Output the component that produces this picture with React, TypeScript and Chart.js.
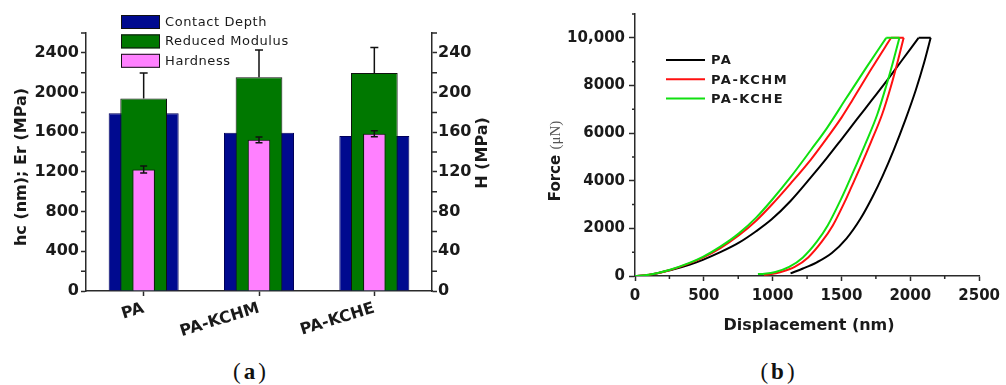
import { useEffect, useRef } from 'react';
import { Chart, registerables } from 'chart.js';

Chart.register(...registerables);

// ---------- (a) indentation summary per sample ----------
const categories = ['PA', 'PA-KCHM', 'PA-KCHE'];
const contactDepth = [1792, 1595, 1562]; // hc, nm
const reducedModulus = [1939, 2155, 2198]; // Er, MPa
const reducedModulusErr = [258, 273, 257];
const hardness = [122.5, 152.3, 158.5]; // H, MPa
const hardnessErr = [3.5, 3, 3];

const leftTicks = [0, 400, 800, 1200, 1600, 2000, 2400];
const rightTicks = [0, 40, 80, 120, 160, 200, 240];

// ---------- (b) force vs displacement curves ----------
const forceTicks = [0, 2000, 4000, 6000, 8000, 10000];
const forceTickLabels = ['0', '2000', '4000', '6000', '8000', '10,000'];
const displacementTicks = [0, 500, 1000, 1500, 2000, 2500];

// [displacement nm, force uN]
const paLoading = [
  [0, 0], [100, 45], [255, 240], [400, 480], [493, 680], [620, 1000], [755, 1400], [880, 1880],
  [993, 2380], [1130, 3150], [1279, 4150], [1393, 4950], [1500, 5740], [1607, 6540], [1720, 7380],
  [1830, 8200], [1945, 9100], [2060, 10000],
];
const paUnloading = [
  [2148, 10000], [2100, 8950], [2040, 7810], [1964, 6556], [1880, 5296], [1800, 4216], [1726, 3328],
  [1640, 2425], [1536, 1572], [1430, 968], [1321, 576], [1220, 313], [1130, 110],
];
const kchmLoading = [
  [0, 0], [100, 48], [255, 255], [400, 540], [493, 770], [620, 1170], [755, 1710], [880, 2320],
  [993, 2990], [1130, 3880], [1279, 4900], [1393, 5780], [1500, 6650], [1579, 7380], [1720, 8720],
  [1860, 10000],
];
const kchmUnloading = [
  [1952, 10000], [1908, 9000], [1860, 7980], [1795, 6780], [1714, 5620], [1636, 4560], [1571, 3720],
  [1524, 3120], [1437, 2120], [1357, 1440], [1258, 780], [1160, 380], [1060, 170], [980, 75], [936, 50],
];
const kcheLoading = [
  [0, 0], [100, 52], [255, 265], [400, 560], [493, 800], [620, 1230], [755, 1790], [880, 2450],
  [993, 3180], [1130, 4150], [1279, 5300], [1393, 6200], [1533, 7450], [1680, 8750], [1825, 10000],
];
const kcheUnloading = [
  [1921, 10000], [1875, 9000], [1825, 7980], [1760, 6780], [1679, 5620], [1600, 4560], [1536, 3720],
  [1488, 3120], [1400, 2120], [1321, 1440], [1220, 780], [1120, 380], [1020, 170], [940, 95], [893, 80],
];

const samples = [
  { name: 'PA', color: '#000000', loading: paLoading, unloading: paUnloading, order: 3 },
  { name: 'PA-KCHM', color: '#ff1010', loading: kchmLoading, unloading: kchmUnloading, order: 2 },
  { name: 'PA-KCHE', color: '#10e010', loading: kcheLoading, unloading: kcheUnloading, order: 1 },
];

// ---------- styling ----------
const SANS = '"DejaVu Sans", "Liberation Sans", sans-serif';
const SERIF = '"Liberation Serif", "DejaVu Serif", serif';
const AXIS = '#2a2a2a';
const INK = '#1a1a1a';
const NAVY = '#000a8f';
const GREEN = '#007800';
const PINK = '#ff80ff';

const minorBetween = (major: number[], max: number) => {
  const step = major[1] - major[0];
  const out: number[] = [];
  for (const v of major) if (v + step / 2 <= max) out.push(v + step / 2);
  return out;
};

function drawMinorTicks(chart: any, scaleId: string, values: number[], len: number) {
  const s = chart.scales[scaleId];
  const ctx = chart.ctx;
  ctx.save();
  ctx.strokeStyle = AXIS;
  ctx.lineWidth = 1.5;
  ctx.beginPath();
  for (const v of values) {
    const p = s.getPixelForValue(v);
    if (s.isHorizontal()) {
      ctx.moveTo(p, s.top);
      ctx.lineTo(p, s.top + len);
    } else if (s.position === 'left') {
      ctx.moveTo(s.right, p);
      ctx.lineTo(s.right - len, p);
    } else {
      ctx.moveTo(s.left, p);
      ctx.lineTo(s.left + len, p);
    }
  }
  ctx.stroke();
  ctx.restore();
}

function drawVerticalTitle(ctx: CanvasRenderingContext2D, parts: { text: string; font: string; color: string }[], x: number, y: number) {
  ctx.save();
  ctx.translate(x, y);
  ctx.rotate(-Math.PI / 2);
  ctx.textBaseline = 'middle';
  ctx.textAlign = 'left';
  const widths = parts.map((p) => {
    ctx.font = p.font;
    return ctx.measureText(p.text).width;
  });
  let cx = -widths.reduce((a, b) => a + b, 0) / 2;
  parts.forEach((p, i) => {
    ctx.font = p.font;
    ctx.fillStyle = p.color;
    ctx.fillText(p.text, cx, 0);
    cx += widths[i];
  });
  ctx.restore();
}

const axisStyle = (tickLength: number) => ({
  grid: { drawOnChartArea: false, tickLength, tickColor: AXIS, tickWidth: 1.5 },
  border: { color: AXIS, width: 1.5 },
});

// error bars, legend and axis titles of panel (a)
const panelAPlugin = {
  id: 'panelADecor',
  afterDatasetsDraw(chart: any) {
    const ctx = chart.ctx;
    const bars = (dsIndex: number, errs: number[], both: boolean, cap: number) => {
      const meta = chart.getDatasetMeta(dsIndex);
      const scale = chart.scales[meta.yAxisID];
      const values = chart.data.datasets[dsIndex].data as number[];
      ctx.save();
      ctx.strokeStyle = '#111';
      ctx.lineWidth = 1.5;
      meta.data.forEach((bar: any, i: number) => {
        const x = bar.x;
        const hi = scale.getPixelForValue(values[i] + errs[i]);
        const lo = scale.getPixelForValue(both ? values[i] - errs[i] : values[i]);
        ctx.beginPath();
        ctx.moveTo(x, lo);
        ctx.lineTo(x, hi);
        ctx.moveTo(x - cap / 2, hi);
        ctx.lineTo(x + cap / 2, hi);
        if (both) {
          ctx.moveTo(x - cap / 2, lo);
          ctx.lineTo(x + cap / 2, lo);
        }
        ctx.stroke();
      });
      ctx.restore();
    };
    bars(1, reducedModulusErr, false, 8);
    bars(2, hardnessErr, true, 7);
  },
  afterDraw(chart: any) {
    const ctx = chart.ctx;
    drawMinorTicks(chart, 'y', minorBetween(leftTicks, 2600), 5);
    drawMinorTicks(chart, 'yH', minorBetween(rightTicks, 260), 5);

    // legend
    ctx.save();
    chart.data.datasets.forEach((ds: any, i: number) => {
      const top = 15 + i * 19.4;
      ctx.fillStyle = ds.backgroundColor;
      ctx.fillRect(121, top, 39, 14);
      ctx.strokeStyle = '#111';
      ctx.lineWidth = 1;
      ctx.strokeRect(121.5, top + 0.5, 38, 13);
      ctx.font = `13px ${SANS}`;
      (ctx as any).letterSpacing = '0.6px';
      ctx.fillStyle = INK;
      ctx.textBaseline = 'middle';
      ctx.textAlign = 'left';
      ctx.fillText(ds.label, 165, top + 7.5);
    });
    (ctx as any).letterSpacing = '0px';
    ctx.restore();

    drawVerticalTitle(ctx, [{ text: 'hc (nm); Er (MPa)', font: `bold 16px ${SANS}`, color: INK }], 22, 167);
    drawVerticalTitle(ctx, [{ text: 'H (MPa)', font: `bold 16px ${SANS}`, color: INK }], 483, 153);
  },
};

// legend, minor ticks and titles of panel (b)
const panelBPlugin = {
  id: 'panelBDecor',
  afterDraw(chart: any) {
    const ctx = chart.ctx;
    drawMinorTicks(chart, 'x', minorBetween(displacementTicks, 2500), 3);
    drawMinorTicks(chart, 'y', minorBetween(forceTicks, 11000), 3);

    ctx.save();
    samples.forEach((s, i) => {
      const y = 60 + i * 19.3;
      ctx.strokeStyle = s.color;
      ctx.lineWidth = 2;
      ctx.beginPath();
      ctx.moveTo(166, y);
      ctx.lineTo(205, y);
      ctx.stroke();
      ctx.font = `bold 13px ${SANS}`;
      (ctx as any).letterSpacing = '1.5px';
      ctx.fillStyle = INK;
      ctx.textBaseline = 'middle';
      ctx.textAlign = 'left';
      ctx.fillText(s.name, 211, y + 1);
    });
    (ctx as any).letterSpacing = '0px';
    ctx.restore();

    drawVerticalTitle(
      ctx,
      [
        { text: 'Force ', font: `bold 15px ${SANS}`, color: INK },
        { text: '(\u03bcN)', font: `15px ${SERIF}`, color: '#555' },
      ],
      56,
      161,
    );
    ctx.save();
    ctx.font = `bold 16px ${SANS}`;
    ctx.fillStyle = INK;
    ctx.textAlign = 'center';
    ctx.textBaseline = 'middle';
    ctx.fillText('Displacement (nm)', 309, 326);
    ctx.restore();
  },
};

export default function App() {
  const refA = useRef<HTMLCanvasElement>(null);
  const refB = useRef<HTMLCanvasElement>(null);

  useEffect(() => {
    const chartA = new Chart(refA.current as HTMLCanvasElement, {
      type: 'bar',
      data: {
        labels: categories,
        datasets: [
          { label: 'Contact Depth', data: contactDepth, yAxisID: 'y', backgroundColor: NAVY, borderColor: '#00005a', borderWidth: 1, barPercentage: 0.607, order: 3 },
          { label: 'Reduced Modulus', data: reducedModulus, yAxisID: 'y', backgroundColor: GREEN, borderColor: '#111', borderWidth: 1, barPercentage: 0.405, order: 2 },
          { label: 'Hardness', data: hardness, yAxisID: 'yH', backgroundColor: PINK, borderColor: '#111', borderWidth: 1, barPercentage: 0.195, order: 1 },
        ] as any,
      },
      options: {
        responsive: false,
        animation: false,
        devicePixelRatio: 1,
        datasets: { bar: { grouped: false, categoryPercentage: 1 } } as any,
        layout: { padding: { top: 33, left: 0, right: 0, bottom: 0 } },
        plugins: { legend: { display: false }, tooltip: { enabled: false } },
        scales: {
          x: {
            type: 'category',
            offset: true,
            ...axisStyle(5),
            grid: { offset: false, drawOnChartArea: false, tickLength: 5, tickColor: AXIS, tickWidth: 1.5 },
            ticks: { font: { family: SANS, size: 16, weight: 'bold' }, color: INK, minRotation: 17, maxRotation: 17, padding: 3 },
            afterFit: (s: any) => { s.height = 54; },
          },
          y: {
            position: 'left',
            min: 0,
            max: 2600,
            ...axisStyle(5),
            ticks: { font: { family: SANS, size: 16, weight: 'bold' }, color: INK, padding: 2, callback: (v: any) => String(v) },
            afterBuildTicks: (s: any) => { s.ticks = leftTicks.map((value) => ({ value })); },
            afterFit: (s: any) => { s.width = 86; },
          },
          yH: {
            position: 'right',
            min: 0,
            max: 260,
            ...axisStyle(5),
            ticks: { font: { family: SANS, size: 16, weight: 'bold' }, color: INK, padding: 1, callback: (v: any) => String(v) },
            afterBuildTicks: (s: any) => { s.ticks = rightTicks.map((value) => ({ value })); },
            afterFit: (s: any) => { s.width = 68; },
          },
        } as any,
      },
      plugins: [panelAPlugin],
    });

    // each sample: loading branch, hold at peak force, unloading branch
    const datasetsB: any[] = [];
    samples.forEach((s) => {
      const hold = [s.loading[s.loading.length - 1], s.unloading[0]];
      [s.loading, hold, s.unloading].forEach((seg) => {
        datasetsB.push({
          label: s.name,
          data: seg.map(([x, y]) => ({ x, y })),
          showLine: true,
          borderColor: s.color,
          borderWidth: 2,
          pointRadius: 0,
          fill: false,
          cubicInterpolationMode: 'monotone',
          order: s.order,
        });
      });
    });

    const chartB = new Chart(refB.current as HTMLCanvasElement, {
      type: 'scatter',
      data: { datasets: datasetsB },
      options: {
        responsive: false,
        animation: false,
        devicePixelRatio: 1,
        layout: { padding: { top: 14, right: 22, left: 0, bottom: 0 } },
        plugins: { legend: { display: false }, tooltip: { enabled: false } },
        scales: {
          x: {
            type: 'linear',
            min: 0,
            max: 2500,
            ...axisStyle(5),
            ticks: { font: { family: SANS, size: 15, weight: 'bold' }, color: INK, padding: 6, callback: (v: any) => String(v) },
            afterBuildTicks: (s: any) => { s.ticks = displacementTicks.map((value) => ({ value })); },
            afterFit: (s: any) => { s.height = 69; },
          },
          y: {
            type: 'linear',
            min: 0,
            max: 11000,
            ...axisStyle(6),
            ticks: { font: { family: SANS, size: 15, weight: 'bold' }, color: INK, padding: 4, callback: (_v: any, i: number) => forceTickLabels[i] },
            afterBuildTicks: (s: any) => { s.ticks = forceTicks.map((value) => ({ value })); },
            afterFit: (s: any) => { s.width = 135; },
          },
        } as any,
      },
      plugins: [panelBPlugin],
    });

    return () => {
      chartA.destroy();
      chartB.destroy();
    };
  }, []);

  const caption = (left: number): React.CSSProperties => ({
    position: 'absolute',
    left,
    top: 358,
    width: 80,
    textAlign: 'center',
    fontFamily: SERIF,
    fontSize: 23,
    lineHeight: '28px',
    letterSpacing: '3px',
    color: '#111',
  });

  return (
    <div style={{ position: 'fixed', left: 0, top: 0, width: 1006, height: 385, background: '#fff', overflow: 'hidden' }}>
      <canvas ref={refA} width={500} height={345} style={{ position: 'absolute', left: 0, top: 0 }} />
      <canvas ref={refB} width={506} height={345} style={{ position: 'absolute', left: 500, top: 0 }} />
      <div style={caption(211)}>
        (<b>a</b>)
      </div>
      <div style={caption(739)}>
        (<b>b</b>)
      </div>
    </div>
  );
}
